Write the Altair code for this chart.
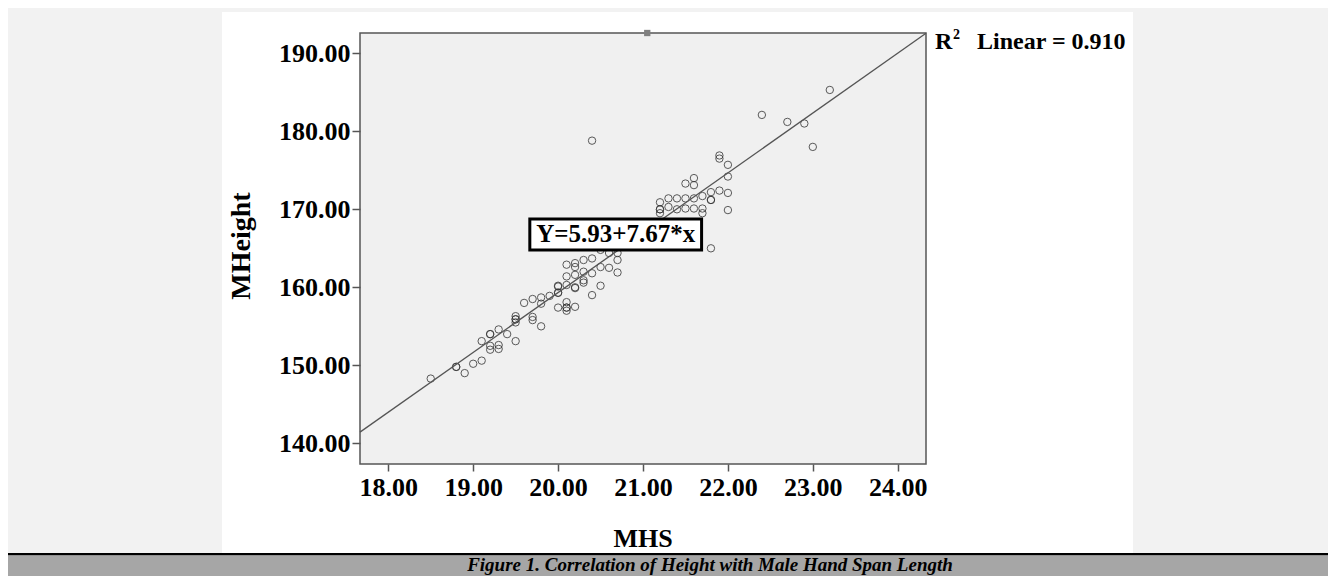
import altair as alt
import pandas as pd

# ---- data ----
mhs = [
    18.5, 18.8, 18.8, 18.9, 19.0, 19.1, 19.1, 19.2, 19.2, 19.2, 19.2, 19.3, 19.3, 19.3,
    19.4, 19.5, 19.5, 19.5, 19.5, 19.5, 19.6, 19.7, 19.7, 19.7, 19.8, 19.8, 19.8, 19.9,
    20.0, 20.0, 20.0, 20.0, 20.1, 20.1, 20.1, 20.1, 20.1, 20.2, 20.2, 20.3,
    20.1, 20.2, 20.3, 20.4, 20.5, 20.6, 20.7, 20.7, 20.5, 20.6, 20.4, 20.7, 20.5, 20.3,
    20.2, 20.0, 20.4, 20.2, 20.1, 20.3, 20.2,
    20.8, 20.9, 21.0, 21.1,
    21.2, 21.3, 21.4, 21.5, 21.2, 21.2, 21.3, 21.5, 21.5, 21.6, 21.6, 21.6, 21.6, 21.7,
    21.7, 21.7, 21.8, 21.8, 21.8, 21.8, 21.9, 21.9, 21.9, 22.0, 22.0, 22.0, 22.0, 21.2,
    21.4, 22.4, 22.7, 22.9, 23.0, 23.2, 20.4,
]
mheight = [
    148.3, 149.8, 149.8, 149.0, 150.2, 150.6, 153.1, 154.0, 154.0, 152.0, 152.5, 152.1, 152.6, 154.6,
    154.0, 153.1, 155.5, 155.9, 155.9, 156.3, 158.0, 158.5, 155.8, 156.2, 155.0, 158.7, 157.9, 158.9,
    160.2, 159.3, 159.3, 157.4, 157.4, 157.4, 157.0, 158.1, 161.4, 159.9, 157.5, 160.6,
    162.9, 163.1, 163.5, 163.7, 164.8, 164.4, 164.4, 163.5, 162.6, 162.5, 161.8, 161.9, 160.2, 160.9,
    160.0, 160.1, 159.0, 161.6, 160.3, 162.0, 162.6,
    165.8, 166.5, 167.2, 168.0,
    170.9, 171.4, 171.4, 171.4, 170.0, 170.0, 170.3, 173.3, 170.1, 174.0, 173.1, 171.4, 170.1, 171.7,
    170.1, 169.5, 172.2, 171.2, 171.2, 165.0, 172.4, 176.9, 176.5, 175.7, 174.2, 172.1, 169.9, 169.5,
    170.0, 182.1, 181.2, 181.0, 178.0, 185.3, 178.8,
]
x_ticks = [18, 19, 20, 21, 22, 23, 24]
y_ticks = [140, 150, 160, 170, 180, 190]
x_domain = [17.667, 24.333]
y_domain = [137.35, 192.6]
intercept = 5.93
slope = 7.67
r2_text = "Linear = 0.910"
eq_text = "Y=5.93+7.67*x"
eq_box_x = [19.667, 21.69]
eq_box_y = [164.78, 168.76]
marker_x = [21.05]

points = pd.DataFrame({"MHS": mhs, "MHeight": mheight})
line_df = pd.DataFrame({
    "MHS": x_domain,
    "MHeight": [intercept + slope * v for v in x_domain],
})
box_df = pd.DataFrame({"x1": [eq_box_x[0]], "x2": [eq_box_x[1]],
                       "y1": [eq_box_y[0]], "y2": [eq_box_y[1]],
                       "tx": [sum(eq_box_x) / 2], "ty": [sum(eq_box_y) / 2],
                       "t": [eq_text]})
marker_df = pd.DataFrame({"MHS": marker_x, "MHeight": [y_domain[1]]})
one = pd.DataFrame({"a": [0]})

SERIF = "Liberation Serif"
W, H = 566, 431

xs = alt.Scale(domain=x_domain, nice=False, zero=False)
ys = alt.Scale(domain=y_domain, nice=False, zero=False)

x_axis = alt.Axis(values=x_ticks, format=".2f", title=None, grid=False, domain=False,
                  tickSize=7, tickWidth=1.5, tickColor="#555555", labelFont=SERIF,
                  labelFontSize=26, labelFontWeight="bold", labelColor="black",
                  labelPadding=3, zindex=1, labelFlush=False)
y_axis = alt.Axis(values=y_ticks, format=".2f", title=None, grid=False, domain=False,
                  tickSize=8, tickWidth=1.5, tickColor="#555555", labelFont=SERIF,
                  labelFontSize=26, labelFontWeight="bold", labelColor="black",
                  labelPadding=2, zindex=1, labelFlush=False)


def prect(x1, x2, y1, y2, **kw):
    return alt.Chart(one).mark_rect(**kw).encode(
        x=alt.value(x1), x2=alt.value(x2), y=alt.value(y1), y2=alt.value(y2))


def ptext(txt, x, y, **kw):
    return alt.Chart(one).mark_text(**kw).encode(
        x=alt.value(x), y=alt.value(y), text=alt.value(txt))


panel = prect(-138, 773, -21, 520, color="white")
black_line = prect(-352, 968, 520, 522.5, color="black")
band = prect(-352, 968, 522.5, 543, color="#a6a6a6")
plot_bg = prect(0, W, 0, H, fill="#f0f0f0", stroke="#555555", strokeWidth=1.5)

pts = alt.Chart(points).mark_point(shape="circle", filled=False, size=55,
                                   stroke="#333333", strokeWidth=1, opacity=0.8).encode(
    x=alt.X("MHS:Q", scale=xs, axis=x_axis),
    y=alt.Y("MHeight:Q", scale=ys, axis=y_axis),
)
fit = alt.Chart(line_df).mark_line(color="#555555", strokeWidth=1.3).encode(
    x=alt.X("MHS:Q", scale=xs), y=alt.Y("MHeight:Q", scale=ys))

box = alt.Chart(box_df).mark_rect(fill="white", stroke="black", strokeWidth=3).encode(
    x=alt.X("x1:Q", scale=xs), x2="x2:Q", y=alt.Y("y1:Q", scale=ys), y2="y2:Q")
box_text = alt.Chart(box_df).mark_text(font=SERIF, fontSize=25, fontWeight="bold",
                                       color="black", baseline="middle").encode(
    x=alt.X("tx:Q", scale=xs), y=alt.Y("ty:Q", scale=ys), text="t:N")

marker = alt.Chart(marker_df).mark_square(size=40, color="#808080", opacity=1).encode(
    x=alt.X("MHS:Q", scale=xs), y=alt.Y("MHeight:Q", scale=ys))

r_txt = ptext("R", 575, 16, font=SERIF, fontSize=24, fontWeight="bold", align="left",
              baseline="alphabetic", color="black")
sup_txt = ptext("2", 593, 6, font=SERIF, fontSize=14, fontWeight="bold", align="left",
                baseline="alphabetic", color="black")
lin_txt = ptext(r2_text, 617, 16, font=SERIF, fontSize=24, fontWeight="bold", align="left",
                baseline="alphabetic", color="black")
xtitle = ptext("MHS", 283, 506, font=SERIF, fontSize=26, fontWeight="bold",
               align="center", baseline="middle", color="black")
ytitle = ptext("MHeight", -118, 213, font=SERIF, fontSize=28, fontWeight="bold",
               align="center", baseline="middle", angle=270, color="black")
caption = ptext("Figure 1. Correlation of Height with Male Hand Span Length", 350, 532,
                font=SERIF, fontSize=19, fontWeight="bold", fontStyle="italic",
                align="center", baseline="middle", color="black")

chart = alt.layer(
    panel, black_line, band, plot_bg, pts, fit, box, box_text, marker,
    r_txt, sup_txt, lin_txt, xtitle, ytitle, caption,
).properties(
    width=W, height=H, autosize="none",
    padding={"left": 352, "top": 25, "right": 402, "bottom": 112},
    background="#f2f2f2",
).configure_view(strokeWidth=0)

chart.save("out.html", embed_options={"renderer": "svg", "actions": False})
